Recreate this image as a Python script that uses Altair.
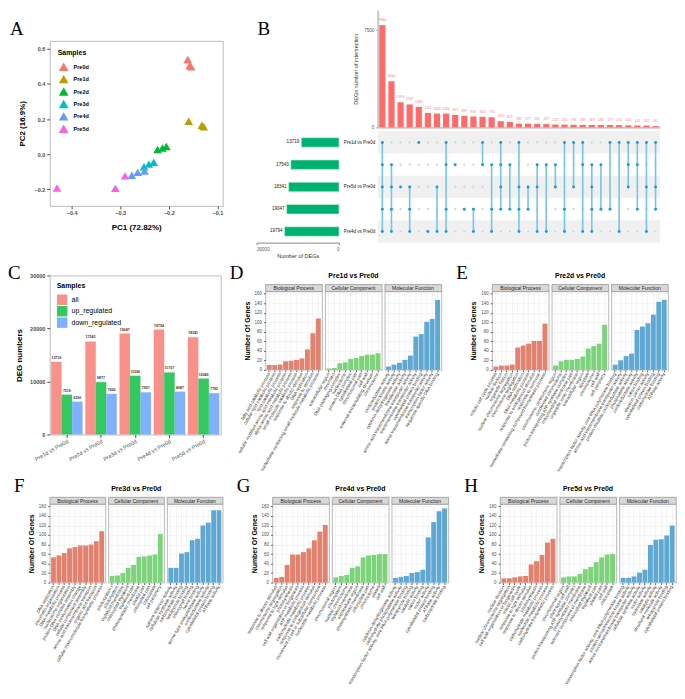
import json
import altair as alt
import pandas as pd

SANS = "Liberation Sans"
SERIF = "Liberation Serif"

# ---------------- A: PCA ----------------
pca_groups = ["Pre0d", "Pre1d", "Pre2d", "Pre3d", "Pre4d", "Pre5d"]
pca_colors = ["#F8766D", "#B79F00", "#00BA38", "#00BFC4", "#619CFF", "#F564E3"]
pca_sample = ["Pre0d"] * 3 + ["Pre1d"] * 3 + ["Pre2d"] * 3 + ["Pre3d"] * 3 + ["Pre4d"] * 3 + ["Pre5d"] * 3
pca_pc1 = [-0.161, -0.157, -0.154, -0.159, -0.132, -0.128, -0.223, -0.213, -0.205,
           -0.251, -0.241, -0.231, -0.276, -0.264, -0.250, -0.430, -0.310, -0.290]
pca_pc2 = [0.540, 0.505, 0.498, 0.188, 0.165, 0.156, 0.026, 0.035, 0.043,
           -0.072, -0.057, -0.046, -0.121, -0.104, -0.096, -0.193, -0.195, -0.124]

# ---------------- B: UpSet ----------------
upset_sets = ["Pre1d vs Pre0d", "Pre2d vs Pre0d", "Pre5d vs Pre0d", "Pre3d vs Pre0d", "Pre4d vs Pre0d"]
upset_set_sizes = [13719, 17543, 18341, 19047, 19794]
upset_values = [7884, 3550, 1933, 1767, 1580, 1111, 1063, 1060, 957, 887, 835, 814, 776, 475, 417,
                282, 277, 262, 247, 213, 211, 196, 189, 183, 180, 177, 170, 150, 141, 137, 90]
# members of each intersection, as row numbers (1 = top row)
upset_members = [[1, 2, 3, 4, 5], [2, 3, 4, 5], [3], [3, 4, 5], [1], [5], [3, 5], [1, 2, 4, 5], [2], [4],
                 [4, 5], [1, 2], [2, 4, 5], [1, 2, 3, 4], [2, 4], [1, 3, 4, 5], [3, 4], [2, 3, 5], [2, 5],
                 [2, 3], [1, 4, 5], [1, 3], [1, 2, 5], [2, 3, 4, 5], [2, 4], [1, 4], [1, 5], [1, 2, 3],
                 [1, 2, 4], [1, 3, 5], [1, 3, 4]]

# ---------------- C: DEG numbers ----------------
deg_comp = ["Pre1d vs Pre0d", "Pre2d vs Pre0d", "Pre3d vs Pre0d", "Pre4d vs Pre0d", "Pre5d vs Pre0d"]
deg_types = ["all", "up_regulated", "down_regulated"]
deg_colors = ["#F8766D", "#00BA38", "#619CFF"]
deg_all = [13719, 17543, 19047, 19794, 18341]
deg_up = [7519, 9877, 11090, 11707, 10549]
deg_down = [6200, 7666, 7957, 8087, 7792]

# ---------------- D-H: GO ----------------
go_cats = ["Biological Process", "Cellular Component", "Molecular Function"]
go_colors = ["#E4806E", "#7DD37B", "#5FA7D4"]
go_major_ticks = [0, 20, 40, 60, 80, 100, 120, 140, 160]

d_bp_terms = ["fatty acid catabolic process", "cellular lipid catabolic process", "lipid catabolic process",
              "cellular modified amino acid metabolic process", "alpha-amino acid metabolic process",
              "small molecule catabolic process", "response to abiotic stimulus", "DNA replication",
              "response to stimulus", "nucleobase-containing small molecule metabolic process"]
d_bp_genes = [10, 10, 11, 18, 19, 21, 24, 43, 77, 108]
d_cc_terms = ["extracellular region", "chromatin", "DNA packaging complex", "nucleosome", "protein-DNA complex",
              "cytoskeletal part", "chromosomal part", "cell wall", "external encapsulating structure", "chromosome"]
d_cc_genes = [3, 4, 14, 16, 23, 25, 29, 32, 32, 35]
d_mf_terms = ["oxidoreductase activity", "protein kinase activity", "cytokinin dehydrogenase activity",
              "transferase activity", "amino acid transmembrane transporter activity",
              "transmembrane transporter activity", "cytoskeletal protein binding",
              "active transmembrane transporter activity", "transcription factor activity",
              "sequence-specific DNA binding"]
d_mf_genes = [7, 11, 15, 21, 30, 70, 75, 101, 107, 147]

e_bp_terms = ["mitotic cell cycle process", "nuclear division", "organelle fission",
              "nuclear chromosome segregation", "chromosome segregation", "DNA replication",
              "DNA metabolic process", "response to endogenous stimulus", "response to hormone",
              "nucleobase-containing compound biosynthetic process"]
e_bp_genes = [7, 9, 9, 11, 47, 51, 55, 61, 61, 97]
e_cc_terms = ["chromosome, centromeric region", "condensed chromosome", "proton-transporting ATP synthase complex",
              "mitochondrial membrane part", "organelle inner membrane", "extracellular region", "apoplast",
              "chromosome", "cell wall", "cell periphery"]
e_cc_genes = [9, 18, 21, 21, 23, 28, 45, 50, 55, 95]
e_mf_terms = ["transcription factor activity, core RNA polymerase binding",
              "amino acid transmembrane transporter activity", "protein disulfide oxidoreductase activity",
              "phosphatase activity", "oxidoreductase activity", "cation binding", "electron carrier activity",
              "cytoskeletal protein binding", "carbohydrate binding", "ATPase activity"]
e_mf_genes = [11, 20, 29, 34, 84, 91, 98, 116, 143, 147]

f_bp_terms = ["DNA replication", "chromatin organization", "DNA metabolic process", "nucleosome organization",
              "protein-DNA complex assembly", "DNA conformation change", "cellular component assembly",
              "amino acid transmembrane transport", "organic acid transport",
              "cellular macromolecule biosynthetic process"]
f_bp_genes = [53, 57, 62, 72, 75, 78, 78, 80, 87, 108]
f_cc_terms = ["photosystem I", "photosystem", "thylakoid membrane", "chloroplast thylakoid", "thylakoid part",
              "photosynthetic membrane", "plastid part", "chloroplast part", "chloroplast", "cell periphery"]
f_cc_genes = [14, 15, 20, 31, 37, 54, 55, 57, 59, 102]
f_mf_terms = ["nutrient reservoir activity", "cellulose synthase activity", "carbohydrate binding",
              "tetrapyrrole binding", "chlorophyll binding", "heme binding", "serine-type endopeptidase activity",
              "oxidoreductase activity", "cytoskeletal protein binding", "ATPase activity"]
f_mf_genes = [31, 31, 61, 64, 89, 92, 120, 126, 152, 152]

g_bp_terms = ["response to abiotic stimulus", "chromosome segregation", "response to light stimulus",
              "photosynthesis", "cell wall organization or biogenesis", "ATP metabolic process",
              "carbohydrate metabolic process", "response to endogenous stimulus",
              "movement of cell or subcellular component", "nucleotide metabolic process"]
g_bp_genes = [10, 12, 37, 59, 59, 64, 72, 89, 107, 121]
g_cc_terms = ["chromosomal region", "photosystem", "nuclear chromosome", "thylakoid membrane",
              "extracellular region", "photosynthetic membrane", "chloroplast part", "chromosome", "plastid",
              "cell wall"]
g_cc_genes = [11, 14, 16, 31, 34, 53, 57, 58, 60, 60]
g_mf_terms = ["cytokinin dehydrogenase activity", "carbohydrate phosphatase activity",
              "transcription factor activity, core RNA polymerase binding", "tetrapyrrole binding",
              "catalytic activity", "cation binding", "motor activity", "cytoskeletal protein binding",
              "ATPase activity", "carbohydrate binding"]
g_mf_genes = [10, 12, 14, 20, 22, 27, 95, 127, 150, 156]

h_bp_terms = ["nuclear division", "nuclear chromosome segregation", "cell wall organization or biogenesis",
              "mitotic cell cycle", "response to light stimulus", "response to abiotic stimulus", "photosynthesis",
              "carbohydrate metabolic process", "nucleotide metabolic process", "carbohydrate biosynthetic process"]
h_bp_genes = [9, 9, 11, 13, 14, 38, 45, 58, 84, 92]
h_cc_terms = ["chromosomal region", "plant-type cell wall", "proton-transporting ATP synthase complex",
              "photosynthetic membrane", "extrinsic component of membrane", "chloroplast thylakoid",
              "thylakoid part", "plastid part", "cell wall", "chloroplast"]
h_cc_genes = [11, 13, 13, 18, 28, 33, 43, 53, 59, 60]
h_mf_terms = ["transcription factor activity, core RNA polymerase binding",
              "protein serine/threonine kinase activity", "active ion transmembrane transporter activity",
              "cellulose synthase activity", "motor activity", "hydrolase activity", "catalytic activity",
              "structural molecule activity", "tetrapyrrole binding", "cytoskeletal protein binding"]
h_mf_genes = [10, 10, 13, 21, 27, 79, 90, 91, 99, 120]


def text_cell(text, w, h, x, y, font=SERIF, size=19, weight="normal", align="left"):
    return alt.Chart(pd.DataFrame({"label": [text]})).mark_text(
        font=font, fontSize=size, fontWeight=weight, align=align, baseline="alphabetic", color="black").encode(
        text="label:N", x=alt.value(x), y=alt.value(y)).properties(width=w, height=h)


# ======== Panel A ========
A_W, A_H = 174, 166
pca_df = pd.DataFrame({"Samples": pca_sample, "PC1": pca_pc1, "PC2": pca_pc2})
ax_common = dict(grid=False, domain=False, labelFontSize=5.5, labelFontWeight="bold", labelColor="#4D4D4D",
                 tickColor="#4D4D4D", tickSize=3, titleFontSize=8, titleFontWeight="bold", titleColor="black")
chart_a = alt.Chart(pca_df).mark_point(shape="triangle-up", filled=True, size=75, opacity=1).encode(
    x=alt.X("PC1:Q", scale=alt.Scale(domain=[-0.445, -0.089], nice=False, zero=False),
            axis=alt.Axis(values=[-0.4, -0.3, -0.2, -0.1], format=".1f", title="PC1 (72.82%)", titlePadding=7,
                          **ax_common)),
    y=alt.Y("PC2:Q", scale=alt.Scale(domain=[-0.295, 0.646], nice=False, zero=False),
            axis=alt.Axis(values=[-0.2, 0.0, 0.2, 0.4, 0.6], format=".1f", title="PC2 (16.9%)", titlePadding=8,
                          **ax_common)),
    color=alt.Color("Samples:N", scale=alt.Scale(domain=pca_groups, range=pca_colors),
                    legend=alt.Legend(orient="top-left", title="Samples", titleFontSize=7, titleFontWeight="bold",
                                      labelFontSize=5.5, labelFontWeight="bold", symbolType="triangle-up",
                                      symbolSize=95, symbolOpacity=1, rowPadding=1.5, offset=8, titlePadding=5)),
).properties(width=A_W, height=A_H, view=alt.ViewBackground(stroke="#BDBDBD", strokeWidth=1))
panel_a = alt.concat(text_cell("A", A_W, 31, -40, 25), chart_a, columns=1, bounds="flush", spacing=0
                     ).resolve_scale(color="independent").resolve_legend(color="independent")

# ======== Panel B ========
W_M = 284
H_TOP = 118
H_M = 112
W_L = 83
XPAD = dict(paddingInner=0.32, paddingOuter=0.16)

top_df = pd.DataFrame({"col": list(range(1, len(upset_values) + 1)), "n": upset_values})
top_bars = alt.Chart(top_df).mark_bar(color="#FF6B6B").encode(
    x=alt.X("col:O", scale=alt.Scale(**XPAD),
            axis=alt.Axis(labels=False, ticks=False, title=None, domain=True, domainColor="#C8C8C8",
                          domainWidth=2, grid=False)),
    y=alt.Y("n:Q", scale=alt.Scale(domain=[0, 9050], nice=False),
            axis=alt.Axis(values=[0, 2500, 5000, 7500], format="d", title="DEGs number of intersection",
                          grid=False, domainColor="#C8C8C8", domainWidth=2, labelFontSize=4.6,
                          labelColor="#555555", tickSize=2, tickColor="#888888", titleFontSize=5.6,
                          titleFontWeight="normal", titleColor="#333333", titlePadding=5)),
)
top_text = alt.Chart(top_df).mark_text(fontSize=3.4, color="#FF7B7B", dy=-3, baseline="bottom").encode(
    x=alt.X("col:O", scale=alt.Scale(**XPAD)), y="n:Q", text="n:Q")
chart_top = alt.layer(top_bars, top_text).properties(width=W_M, height=H_TOP)

rows = []
for c, mem in enumerate(upset_members, start=1):
    for r in range(1, len(upset_sets) + 1):
        rows.append({"col": c, "row": r, "member": r in mem})
mat_df = pd.DataFrame(rows)
rule_df = pd.DataFrame({"col": list(range(1, len(upset_members) + 1)),
                        "rmin": [min(m) for m in upset_members],
                        "rmax": [max(m) for m in upset_members]})
band_df = pd.DataFrame({"row": [1, 3, 5]})
band_df["y0"] = band_df["row"] - 0.5
band_df["y1"] = band_df["row"] + 0.5

label_expr = json.dumps(upset_sets) + "[datum.value - 1]"
yrow = alt.Y("row:Q", scale=alt.Scale(domain=[0.5, 5.5], reverse=True, nice=False, zero=False),
             axis=alt.Axis(values=[1, 2, 3, 4, 5], labelExpr=label_expr, ticks=False, domain=False, grid=False,
                           labelFontSize=4.6, labelColor="#222222", labelPadding=3, title=None))
xmat = alt.X("col:O", scale=alt.Scale(**XPAD), axis=None)

bands = alt.Chart(band_df).mark_rect(color="#F0F0F0").encode(
    x=alt.value(0), x2=alt.value(W_M), y=alt.Y("y0:Q", scale=alt.Scale(domain=[0.5, 5.5], reverse=True)),
    y2="y1:Q")
dots_off = alt.Chart(mat_df[~mat_df["member"]]).mark_circle(size=5, color="#D3D3D3", opacity=1).encode(
    x=xmat, y=yrow)
rules = alt.Chart(rule_df).mark_rule(color="#77C4E8", strokeWidth=1.6).encode(
    x=xmat, y=alt.Y("rmin:Q"), y2="rmax:Q")
dots_on = alt.Chart(mat_df[mat_df["member"]]).mark_circle(size=9, color="#1E9AD8", opacity=1).encode(
    x=xmat, y=yrow)
chart_matrix = alt.layer(bands, dots_off, rules, dots_on).resolve_scale(y="shared").properties(
    width=W_M, height=H_M)

left_df = pd.DataFrame({"set": upset_sets, "size": upset_set_sizes})
xl = alt.X("size:Q", scale=alt.Scale(domain=[0, 30000], reverse=True, nice=False),
           axis=alt.Axis(values=[0, 10000, 20000, 30000], format="d", title="Number of DEGs", grid=False,
                         labelFontSize=4.6, labelColor="#555555", tickSize=2, domainColor="#888888",
                         titleFontSize=5.6, titleFontWeight="normal", titleColor="#333333", titlePadding=2))
yl = alt.Y("set:N", sort=upset_sets, scale=alt.Scale(paddingInner=0, paddingOuter=0), axis=None)
left_bars = alt.Chart(left_df).mark_bar(size=9.5, color="#00B272", stroke="#CFEFE0", strokeWidth=0.6).encode(
    x=xl, y=yl)
left_text = alt.Chart(left_df).mark_text(align="right", dx=-2, fontSize=4.6, color="#222222").encode(
    x=alt.X("size:Q", scale=alt.Scale(domain=[0, 30000], reverse=True, nice=False)), y=yl, text="size:Q")
chart_left = alt.layer(left_bars, left_text).properties(width=W_L, height=H_M)

panel_b = alt.concat(text_cell("B", W_L, H_TOP, 1, 25), chart_top, chart_left, chart_matrix, columns=2,
                     bounds="flush", spacing={"row": 4, "column": 39})

# ======== Panel C ========
C_W, C_H = 172, 160
deg_rows = []
for i, comp in enumerate(deg_comp):
    deg_rows.append({"comp": comp, "type": "all", "n": deg_all[i]})
    deg_rows.append({"comp": comp, "type": "up_regulated", "n": deg_up[i]})
    deg_rows.append({"comp": comp, "type": "down_regulated", "n": deg_down[i]})
deg_df = pd.DataFrame(deg_rows)
c_base = alt.Chart(deg_df).encode(
    x=alt.X("comp:N", sort=deg_comp, scale=alt.Scale(paddingInner=0.08, paddingOuter=0.04),
            axis=alt.Axis(labelAngle=-30, title=None, grid=False, domain=False, labelFontSize=5.5,
                          labelColor="#4D4D4D", tickSize=3, tickColor="#4D4D4D", labelPadding=1)),
    xOffset=alt.XOffset("type:N", sort=deg_types, scale=alt.Scale(domain=deg_types, paddingInner=0,
                                                                   paddingOuter=0)),
    y=alt.Y("n:Q", scale=alt.Scale(domain=[0, 30000], nice=False),
            axis=alt.Axis(values=[0, 10000, 20000, 30000], format="d", title="DEG numbers", titlePadding=6,
                          **ax_common)),
)
c_bars = c_base.mark_bar(opacity=0.8).encode(
    color=alt.Color("type:N", sort=deg_types, scale=alt.Scale(domain=deg_types, range=deg_colors),
                    legend=alt.Legend(orient="top-left", title="Samples", titleFontSize=7, titleFontWeight="bold",
                                      labelFontSize=7, symbolType="square", symbolSize=110, symbolOpacity=0.8,
                                      symbolStrokeWidth=0, rowPadding=0.5, offset=7, titlePadding=5)))
c_text = c_base.mark_text(dy=-2, baseline="bottom", fontSize=3.6, fontWeight="bold", color="#333333").encode(
    text=alt.Text("n:Q", format="d"))
chart_c = alt.layer(c_bars, c_text).properties(
    width=C_W, height=C_H, view=alt.ViewBackground(stroke="#BDBDBD", strokeWidth=1))
panel_c = alt.concat(text_cell("C", C_W, 11, -42, 15), chart_c, columns=1, bounds="flush", spacing=0
                     ).resolve_scale(color="independent").resolve_legend(color="independent")


# ======== Panels D-H ========
def go_panel(letter, name, parts, w=57, h=79, sh=7, th=20):
    heads = [text_cell(letter, w, th, -36, 15),
             text_cell(name, w, th, w / 2, 14, font=SANS, size=7, weight="bold", align="center"),
             text_cell("", w, th, 0, 14, font=SANS, size=7)]
    strips = []
    bars = []
    for i, (terms, genes) in enumerate(parts):
        cat = go_cats[i]
        strip = alt.Chart(pd.DataFrame({"cat": [cat]})).mark_text(
            fontSize=5.0, color="#1A1A1A", baseline="middle", align="center").encode(
            text="cat:N", x=alt.value(w / 2), y=alt.value(sh / 2 + 0.3)).properties(
            width=w, height=sh, view=alt.ViewBackground(fill="#D9D9D9", stroke="#8C8C8C", strokeWidth=0.7))
        strips.append(strip)
        df = pd.DataFrame({"term": terms, "genes": genes})
        first = i == 0
        chart = alt.Chart(df).mark_bar(color=go_colors[i]).encode(
            x=alt.X("term:N", sort=terms, scale=alt.Scale(paddingInner=0.1, paddingOuter=0.25),
                    axis=alt.Axis(labelAngle=-60, labelFontSize=4.5, labelLimit=0, labelColor="#333333",
                                  tickSize=2, tickColor="#666666", grid=True, gridColor="#EBEBEB",
                                  gridWidth=0.6, domain=False, title=None, labelPadding=1)),
            y=alt.Y("genes:Q", scale=alt.Scale(domain=[0, 165], nice=False),
                    axis=alt.Axis(values=go_major_ticks, grid=True, gridColor="#EBEBEB", gridWidth=0.6,
                                  domain=False, labels=first, ticks=first, labelFontSize=4.5,
                                  labelColor="#4D4D4D", tickSize=2, tickColor="#666666",
                                  title="Number Of Genes" if first else None, titleFontSize=7,
                                  titleFontWeight="bold", titleColor="black", titlePadding=4)),
        ).properties(width=w, height=h, view=alt.ViewBackground(stroke="#A6A6A6", strokeWidth=0.8))
        bars.append(chart)
    return alt.concat(*heads, *strips, *bars, columns=3, bounds="flush", spacing={"row": 0, "column": 3})


go_d = go_panel("D", "Pre1d vs Pre0d", [(d_bp_terms, d_bp_genes), (d_cc_terms, d_cc_genes), (d_mf_terms, d_mf_genes)])
go_e = go_panel("E", "Pre2d vs Pre0d", [(e_bp_terms, e_bp_genes), (e_cc_terms, e_cc_genes), (e_mf_terms, e_mf_genes)])
go_f = go_panel("F", "Pre3d vs Pre0d", [(f_bp_terms, f_bp_genes), (f_cc_terms, f_cc_genes), (f_mf_terms, f_mf_genes)],
                w=56)
go_g = go_panel("G", "Pre4d vs Pre0d", [(g_bp_terms, g_bp_genes), (g_cc_terms, g_cc_genes), (g_mf_terms, g_mf_genes)])
go_h = go_panel("H", "Pre5d vs Pre0d", [(h_bp_terms, h_bp_genes), (h_cc_terms, h_cc_genes), (h_mf_terms, h_mf_genes)])

row1 = alt.hconcat(panel_a, panel_b, spacing=32)
row2 = alt.hconcat(panel_c, alt.hconcat(go_d, go_e, spacing=14), spacing=8)
row3 = alt.hconcat(go_f, alt.hconcat(go_g, go_h, spacing=15), spacing=13)

chart = alt.vconcat(row1, row2, row3, spacing=5).resolve_scale(color="independent").configure(
    background="white", padding={"left": 0, "top": 0, "right": 0, "bottom": 2}
).configure_view(stroke=None).configure_axis(
    labelFont=SANS, titleFont=SANS
).configure_legend(labelFont=SANS, titleFont=SANS).configure_title(font=SANS).configure_text(font=SANS)

chart.save("out.html", embed_options={"renderer": "svg", "actions": False})
